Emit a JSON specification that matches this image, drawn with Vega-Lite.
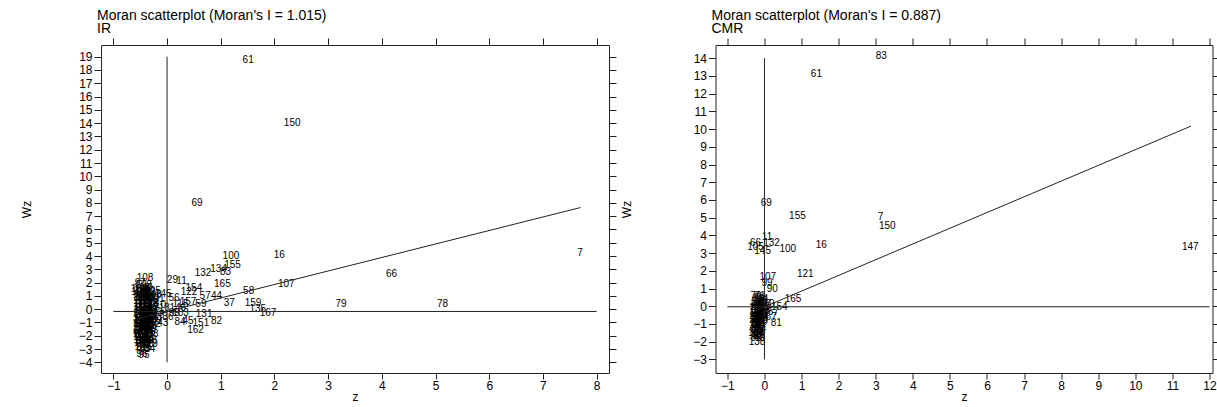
{
  "$schema": "https://vega.github.io/schema/vega-lite/v6.json",
  "background": "white",
  "padding": {"left": 19, "top": 8, "right": 0, "bottom": 0},
  "spacing": 2.5,
  "config": {
    "font": "Liberation Sans",
    "view": {"stroke": "#222", "strokeWidth": 1},
    "axis": {"domain": false, "grid": false, "tickColor": "#222", "tickSize": 7, "labelFontSize": 12, "labelColor": "#000", "labelFont": "Liberation Sans", "titleFont": "Liberation Sans", "titleFontSize": 12, "titleFontWeight": "normal", "titleColor": "#000", "labelPadding": 2, "labelFlush": false, "labelOverlap": false},
    "axisBottom": {"tickSize": 6, "labelPadding": 1, "titlePadding": 0},
    "title": {"font": "Liberation Sans", "fontSize": 14, "fontWeight": "normal", "color": "#000", "anchor": "start", "frame": "group", "subtitleFont": "Liberation Sans", "subtitleFontSize": 14, "subtitleColor": "#000", "subtitlePadding": -1, "offset": 2, "dx": -4}
  },
  "datasets": {
    "ir": [
      {"id": "61", "z": 1.51, "wz": 18.75}, {"id": "150", "z": 2.33, "wz": 13.98}, {"id": "69", "z": 0.56, "wz": 8.0},
      {"id": "100", "z": 1.19, "wz": 4.03}, {"id": "16", "z": 2.09, "wz": 4.1}, {"id": "7", "z": 7.69, "wz": 4.26},
      {"id": "66", "z": 4.18, "wz": 2.67}, {"id": "155", "z": 1.22, "wz": 3.35}, {"id": "134", "z": 0.96, "wz": 3.0},
      {"id": "83", "z": 1.09, "wz": 2.8}, {"id": "132", "z": 0.67, "wz": 2.72}, {"id": "165", "z": 1.03, "wz": 1.86},
      {"id": "107", "z": 2.22, "wz": 1.92}, {"id": "58", "z": 1.52, "wz": 1.4}, {"id": "79", "z": 3.24, "wz": 0.41},
      {"id": "78", "z": 5.13, "wz": 0.41}, {"id": "37", "z": 1.16, "wz": 0.45}, {"id": "159", "z": 1.60, "wz": 0.45},
      {"id": "135", "z": 1.69, "wz": 0.0}, {"id": "167", "z": 1.88, "wz": -0.3}, {"id": "29", "z": 0.1, "wz": 2.2},
      {"id": "11", "z": 0.27, "wz": 2.1}, {"id": "154", "z": 0.5, "wz": 1.6}, {"id": "122", "z": 0.41, "wz": 1.29},
      {"id": "57", "z": 0.71, "wz": 1.02}, {"id": "44", "z": 0.92, "wz": 0.98}, {"id": "131", "z": 0.69, "wz": -0.37},
      {"id": "82", "z": 0.92, "wz": -0.85}, {"id": "84", "z": 0.24, "wz": -0.97}, {"id": "45", "z": 0.39, "wz": -0.9},
      {"id": "151", "z": 0.63, "wz": -1.05}, {"id": "162", "z": 0.53, "wz": -1.56}, {"id": "56", "z": 0.13, "wz": 0.83},
      {"id": "108", "z": -0.41, "wz": 2.35}, {"id": "97", "z": -0.5, "wz": 1.96}, {"id": "104", "z": -0.52, "wz": 1.5},
      {"id": "40", "z": -0.37, "wz": 1.6}, {"id": "30", "z": -0.42, "wz": 1.45}, {"id": "145", "z": -0.07, "wz": 1.12},
      {"id": "115", "z": 0.25, "wz": 0.38}, {"id": "157", "z": 0.39, "wz": 0.53}, {"id": "59", "z": 0.63, "wz": 0.42},
      {"id": "146", "z": 0.2, "wz": 0.08}, {"id": "99", "z": 0.14, "wz": -0.25}, {"id": "103", "z": 0.25, "wz": -0.25},
      {"id": "36", "z": 0.02, "wz": -0.6}, {"id": "43", "z": -0.08, "wz": -1.05}, {"id": "88", "z": -0.26, "wz": -1.85},
      {"id": "119", "z": -0.32, "wz": -2.6}, {"id": "34", "z": -0.32, "wz": -3.0}, {"id": "96", "z": -0.47, "wz": -3.35},
      {"id": "95", "z": -0.43, "wz": -3.45}, {"id": "38", "z": -0.29, "wz": -2.3},
      {"id": "1", "z": -0.5, "wz": 0.55}, {"id": "2", "z": -0.41, "wz": 0.58}, {"id": "3", "z": -0.33, "wz": 0.52}, {"id": "4", "z": -0.22, "wz": 0.5},
      {"id": "5", "z": -0.53, "wz": 0.32}, {"id": "6", "z": -0.45, "wz": 0.28}, {"id": "8", "z": -0.37, "wz": 0.3}, {"id": "9", "z": -0.27, "wz": 0.33}, {"id": "10", "z": -0.12, "wz": 0.35},
      {"id": "12", "z": -0.51, "wz": 0.05}, {"id": "13", "z": -0.43, "wz": 0.08}, {"id": "14", "z": -0.36, "wz": 0.02}, {"id": "17", "z": -0.25, "wz": 0.06}, {"id": "18", "z": -0.05, "wz": 0.1},
      {"id": "19", "z": -0.52, "wz": -0.18}, {"id": "20", "z": -0.46, "wz": -0.22}, {"id": "21", "z": -0.39, "wz": -0.2}, {"id": "22", "z": -0.3, "wz": -0.15}, {"id": "23", "z": -0.18, "wz": -0.25},
      {"id": "24", "z": -0.5, "wz": -0.45}, {"id": "25", "z": -0.44, "wz": -0.48}, {"id": "26", "z": -0.36, "wz": -0.42}, {"id": "27", "z": -0.28, "wz": -0.5}, {"id": "28", "z": -0.15, "wz": -0.47},
      {"id": "31", "z": -0.53, "wz": -0.72}, {"id": "32", "z": -0.45, "wz": -0.68}, {"id": "33", "z": -0.38, "wz": -0.75}, {"id": "35", "z": -0.3, "wz": -0.7}, {"id": "39", "z": -0.2, "wz": -0.78},
      {"id": "41", "z": -0.51, "wz": -0.95}, {"id": "42", "z": -0.43, "wz": -0.98}, {"id": "46", "z": -0.36, "wz": -0.92}, {"id": "47", "z": -0.27, "wz": -1.0},
      {"id": "48", "z": -0.52, "wz": -1.2}, {"id": "49", "z": -0.46, "wz": -1.24}, {"id": "50", "z": -0.39, "wz": -1.18}, {"id": "51", "z": -0.31, "wz": -1.25}, {"id": "52", "z": -0.22, "wz": -1.15},
      {"id": "53", "z": -0.5, "wz": -1.45}, {"id": "54", "z": -0.44, "wz": -1.48}, {"id": "55", "z": -0.37, "wz": -1.42}, {"id": "60", "z": -0.3, "wz": -1.5},
      {"id": "62", "z": -0.53, "wz": -1.7}, {"id": "63", "z": -0.45, "wz": -1.72}, {"id": "64", "z": -0.38, "wz": -1.68}, {"id": "65", "z": -0.32, "wz": -1.75},
      {"id": "67", "z": -0.51, "wz": -1.95}, {"id": "68", "z": -0.44, "wz": -1.98}, {"id": "70", "z": -0.37, "wz": -1.93},
      {"id": "71", "z": -0.5, "wz": -2.2}, {"id": "72", "z": -0.43, "wz": -2.22}, {"id": "73", "z": -0.36, "wz": -2.18},
      {"id": "74", "z": -0.51, "wz": -2.45}, {"id": "75", "z": -0.44, "wz": -2.48}, {"id": "76", "z": -0.38, "wz": -2.42},
      {"id": "77", "z": -0.49, "wz": -2.7}, {"id": "80", "z": -0.42, "wz": -2.72},
      {"id": "81", "z": -0.47, "wz": -2.95}, {"id": "85", "z": -0.41, "wz": -2.98},
      {"id": "86", "z": -0.52, "wz": 0.82}, {"id": "87", "z": -0.44, "wz": 0.78}, {"id": "89", "z": -0.36, "wz": 0.85}, {"id": "90", "z": -0.26, "wz": 0.8}, {"id": "91", "z": -0.15, "wz": 0.75},
      {"id": "92", "z": -0.5, "wz": 1.05}, {"id": "93", "z": -0.42, "wz": 1.1}, {"id": "94", "z": -0.32, "wz": 1.02}, {"id": "98", "z": -0.2, "wz": 1.08},
      {"id": "101", "z": -0.51, "wz": 1.32}, {"id": "102", "z": -0.38, "wz": 1.28}, {"id": "105", "z": -0.27, "wz": 1.35},
      {"id": "106", "z": -0.47, "wz": 1.62}, {"id": "109", "z": -0.44, "wz": 1.8},
      {"id": "110", "z": -0.48, "wz": 0.42}, {"id": "111", "z": -0.4, "wz": 0.4}, {"id": "112", "z": -0.3, "wz": 0.44},
      {"id": "113", "z": -0.48, "wz": 0.18}, {"id": "114", "z": -0.41, "wz": 0.16}, {"id": "116", "z": -0.32, "wz": 0.2},
      {"id": "117", "z": -0.48, "wz": -0.08}, {"id": "118", "z": -0.41, "wz": -0.05}, {"id": "120", "z": -0.33, "wz": -0.1},
      {"id": "121", "z": -0.48, "wz": -0.33}, {"id": "123", "z": -0.4, "wz": -0.35}, {"id": "124", "z": -0.33, "wz": -0.32},
      {"id": "125", "z": -0.48, "wz": -0.58}, {"id": "126", "z": -0.41, "wz": -0.6}, {"id": "127", "z": -0.34, "wz": -0.57},
      {"id": "128", "z": -0.48, "wz": -0.83}, {"id": "129", "z": -0.41, "wz": -0.85}, {"id": "130", "z": -0.33, "wz": -0.82},
      {"id": "133", "z": -0.48, "wz": -1.08}, {"id": "136", "z": -0.4, "wz": -1.1},
      {"id": "137", "z": -0.48, "wz": -1.33}, {"id": "138", "z": -0.41, "wz": -1.35}, {"id": "139", "z": -0.34, "wz": -1.3},
      {"id": "140", "z": -0.48, "wz": -1.58}, {"id": "141", "z": -0.41, "wz": -1.6},
      {"id": "142", "z": -0.48, "wz": -1.83}, {"id": "143", "z": -0.41, "wz": -1.85},
      {"id": "144", "z": -0.48, "wz": -2.08}, {"id": "147", "z": -0.41, "wz": -2.1},
      {"id": "148", "z": -0.47, "wz": -2.33}, {"id": "149", "z": -0.4, "wz": -2.35},
      {"id": "152", "z": -0.46, "wz": -2.58}, {"id": "153", "z": -0.4, "wz": -2.6},
      {"id": "156", "z": -0.45, "wz": -2.85}, {"id": "158", "z": -0.48, "wz": 0.65}, {"id": "160", "z": -0.4, "wz": 0.68},
      {"id": "161", "z": -0.46, "wz": 0.92}, {"id": "163", "z": -0.38, "wz": 0.95}, {"id": "164", "z": -0.44, "wz": 1.2}, {"id": "166", "z": -0.46, "wz": 1.45}
    ],
    "irLines": [
      {"x": 0, "y": -4, "x2": 0, "y2": 19},
      {"x": -1, "y": -0.17, "x2": 8, "y2": -0.17},
      {"x": -0.55, "y": -0.73, "x2": 7.7, "y2": 7.65}
    ],
    "cmr": [
      {"id": "83", "z": 3.15, "wz": 14.15}, {"id": "61", "z": 1.4, "wz": 13.13}, {"id": "69", "z": 0.05, "wz": 5.82},
      {"id": "155", "z": 0.89, "wz": 5.11}, {"id": "7", "z": 3.13, "wz": 5.03}, {"id": "150", "z": 3.31, "wz": 4.54},
      {"id": "11", "z": 0.07, "wz": 3.89}, {"id": "66", "z": -0.24, "wz": 3.55}, {"id": "132", "z": 0.19, "wz": 3.55},
      {"id": "105", "z": -0.24, "wz": 3.32}, {"id": "145", "z": -0.05, "wz": 3.11}, {"id": "100", "z": 0.63, "wz": 3.23},
      {"id": "16", "z": 1.53, "wz": 3.43}, {"id": "147", "z": 11.48, "wz": 3.36}, {"id": "107", "z": 0.09, "wz": 1.63},
      {"id": "99", "z": 0.07, "wz": 1.29}, {"id": "90", "z": 0.21, "wz": 1.0}, {"id": "121", "z": 1.1, "wz": 1.81},
      {"id": "165", "z": 0.77, "wz": 0.4}, {"id": "154", "z": 0.4, "wz": -0.03}, {"id": "57", "z": 0.24, "wz": -0.32},
      {"id": "67", "z": 0.18, "wz": -0.58}, {"id": "81", "z": 0.32, "wz": -0.92}, {"id": "138", "z": -0.2, "wz": -2.0},
      {"id": "136", "z": -0.22, "wz": -1.5},
      {"id": "1", "z": -0.24, "wz": 0.45}, {"id": "2", "z": -0.16, "wz": 0.48}, {"id": "3", "z": -0.08, "wz": 0.43}, {"id": "4", "z": 0.03, "wz": 0.4},
      {"id": "5", "z": -0.26, "wz": 0.22}, {"id": "6", "z": -0.18, "wz": 0.18}, {"id": "8", "z": -0.1, "wz": 0.2}, {"id": "9", "z": -0.02, "wz": 0.24}, {"id": "10", "z": 0.12, "wz": 0.15},
      {"id": "12", "z": -0.25, "wz": -0.05}, {"id": "13", "z": -0.17, "wz": -0.02}, {"id": "14", "z": -0.09, "wz": -0.08}, {"id": "15", "z": 0.0, "wz": -0.04},
      {"id": "17", "z": -0.26, "wz": -0.3}, {"id": "18", "z": -0.18, "wz": -0.28}, {"id": "19", "z": -0.11, "wz": -0.33}, {"id": "20", "z": -0.03, "wz": -0.27},
      {"id": "21", "z": -0.25, "wz": -0.55}, {"id": "22", "z": -0.17, "wz": -0.58}, {"id": "23", "z": -0.1, "wz": -0.52}, {"id": "24", "z": -0.04, "wz": -0.6},
      {"id": "25", "z": -0.26, "wz": -0.8}, {"id": "26", "z": -0.18, "wz": -0.78}, {"id": "27", "z": -0.11, "wz": -0.83}, {"id": "28", "z": -0.05, "wz": -0.77},
      {"id": "29", "z": -0.25, "wz": -1.05}, {"id": "30", "z": -0.17, "wz": -1.08}, {"id": "31", "z": -0.1, "wz": -1.02},
      {"id": "32", "z": -0.24, "wz": -1.3}, {"id": "33", "z": -0.17, "wz": -1.33}, {"id": "34", "z": -0.11, "wz": -1.28},
      {"id": "35", "z": -0.23, "wz": -1.55}, {"id": "37", "z": -0.16, "wz": -1.58},
      {"id": "39", "z": -0.22, "wz": -1.8}, {"id": "40", "z": -0.15, "wz": -1.82},
      {"id": "41", "z": -0.21, "wz": 0.33}, {"id": "42", "z": -0.13, "wz": 0.35}, {"id": "43", "z": -0.06, "wz": 0.3},
      {"id": "44", "z": -0.22, "wz": 0.08}, {"id": "45", "z": -0.14, "wz": 0.06}, {"id": "46", "z": -0.06, "wz": 0.1},
      {"id": "47", "z": -0.21, "wz": -0.17}, {"id": "48", "z": -0.13, "wz": -0.15}, {"id": "49", "z": -0.06, "wz": -0.2},
      {"id": "50", "z": -0.22, "wz": -0.42}, {"id": "51", "z": -0.14, "wz": -0.45}, {"id": "52", "z": -0.07, "wz": -0.4},
      {"id": "53", "z": -0.21, "wz": -0.67}, {"id": "55", "z": -0.14, "wz": -0.7}, {"id": "56", "z": -0.07, "wz": -0.66},
      {"id": "58", "z": -0.21, "wz": -0.92}, {"id": "59", "z": -0.14, "wz": -0.95}, {"id": "60", "z": -0.07, "wz": -0.9},
      {"id": "62", "z": -0.21, "wz": -1.17}, {"id": "63", "z": -0.13, "wz": -1.2},
      {"id": "64", "z": -0.21, "wz": -1.42}, {"id": "65", "z": -0.13, "wz": -1.45}, {"id": "68", "z": -0.19, "wz": -1.68},
      {"id": "70", "z": -0.23, "wz": 0.58}, {"id": "71", "z": -0.12, "wz": 0.6},
      {"id": "72", "z": -0.26, "wz": -0.18}, {"id": "73", "z": -0.26, "wz": -0.67}, {"id": "74", "z": -0.26, "wz": -0.92},
      {"id": "75", "z": -0.05, "wz": -0.45}, {"id": "76", "z": 0.04, "wz": -0.15}, {"id": "77", "z": 0.03, "wz": 0.1}
    ],
    "cmrLines": [
      {"x": 0, "y": -3, "x2": 0, "y2": 14},
      {"x": -1, "y": -0.03, "x2": 12, "y2": -0.03},
      {"x": -0.3, "y": -0.3, "x2": 11.5, "y2": 10.17}
    ]
  },
  "hconcat": [
    {
      "width": 508,
      "height": 328,
      "title": {"text": "Moran scatterplot (Moran's I = 1.015)", "subtitle": "IR"},
      "layer": [
        {
          "data": {"name": "ir"},
          "mark": {"type": "text", "fontSize": 10, "color": "#000", "font": "Liberation Sans"},
          "encoding": {
            "x": {"field": "z", "type": "quantitative", "scale": {"domain": [-1.23, 8.23], "nice": false, "zero": false}, "axis": {"orient": "bottom", "values": [-1, 0, 1, 2, 3, 4, 5, 6, 7, 8], "title": "z"}},
            "y": {"field": "wz", "type": "quantitative", "scale": {"domain": [-4.8, 19.88], "nice": false, "zero": false}, "axis": {"orient": "left", "values": [-4, -3, -2, -1, 0, 1, 2, 3, 4, 5, 6, 7, 8, 9, 10, 11, 12, 13, 14, 15, 16, 17, 18, 19], "title": "Wz", "titlePadding": 45}},
            "text": {"field": "id", "type": "nominal"}
          }
        },
        {
          "data": {"name": "irLines"},
          "mark": {"type": "rule", "color": "#222", "strokeWidth": 1},
          "encoding": {
            "x": {"field": "x", "type": "quantitative", "axis": {"orient": "top", "values": [-1, 0, 1, 2, 3, 4, 5, 6, 7, 8], "labels": false, "title": null}},
            "y": {"field": "y", "type": "quantitative", "axis": {"orient": "right", "values": [-4, -3, -2, -1, 0, 1, 2, 3, 4, 5, 6, 7, 8, 9, 10, 11, 12, 13, 14, 15, 16, 17, 18, 19], "labels": false, "title": null}},
            "x2": {"field": "x2"},
            "y2": {"field": "y2"}
          }
        }
      ],
      "resolve": {"axis": {"x": "independent", "y": "independent"}}
    },
    {
      "width": 497,
      "height": 328,
      "title": {"text": "Moran scatterplot (Moran's I = 0.887)", "subtitle": "CMR"},
      "layer": [
        {
          "data": {"name": "cmr"},
          "mark": {"type": "text", "fontSize": 10, "color": "#000", "font": "Liberation Sans"},
          "encoding": {
            "x": {"field": "z", "type": "quantitative", "scale": {"domain": [-1.32, 12.08], "nice": false, "zero": false}, "axis": {"orient": "bottom", "values": [-1, 0, 1, 2, 3, 4, 5, 6, 7, 8, 9, 10, 11, 12], "title": "z"}},
            "y": {"field": "wz", "type": "quantitative", "scale": {"domain": [-3.77, 14.75], "nice": false, "zero": false}, "axis": {"orient": "left", "values": [-3, -2, -1, 0, 1, 2, 3, 4, 5, 6, 7, 8, 9, 10, 11, 12, 13, 14], "title": "Wz", "titlePadding": 59}},
            "text": {"field": "id", "type": "nominal"}
          }
        },
        {
          "data": {"name": "cmrLines"},
          "mark": {"type": "rule", "color": "#222", "strokeWidth": 1},
          "encoding": {
            "x": {"field": "x", "type": "quantitative", "axis": {"orient": "top", "values": [-1, 0, 1, 2, 3, 4, 5, 6, 7, 8, 9, 10, 11, 12], "labels": false, "title": null}},
            "y": {"field": "y", "type": "quantitative", "axis": {"orient": "right", "values": [-3, -2, -1, 0, 1, 2, 3, 4, 5, 6, 7, 8, 9, 10, 11, 12, 13, 14], "labels": false, "title": null}},
            "x2": {"field": "x2"},
            "y2": {"field": "y2"}
          }
        }
      ],
      "resolve": {"axis": {"x": "independent", "y": "independent"}}
    }
  ]
}
